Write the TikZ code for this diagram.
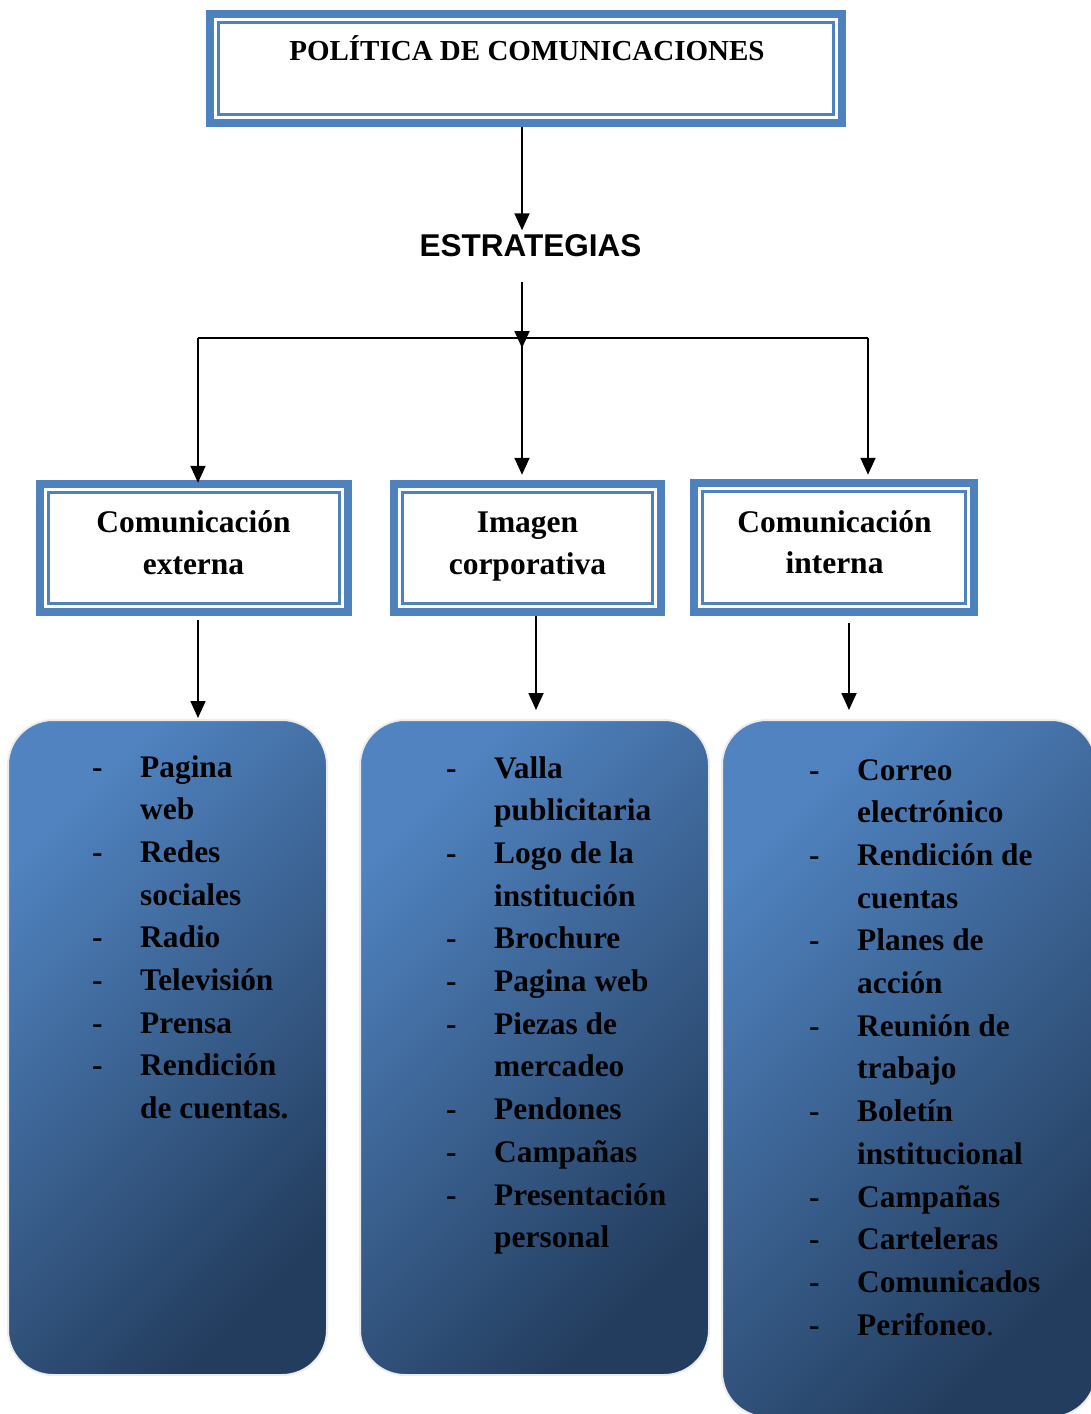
\documentclass[tikz,border=0pt]{standalone}
\usepackage{fontspec}
\setmainfont{Liberation Serif}
\newfontfamily\arialfont{Liberation Sans}
\usetikzlibrary{arrows.meta}
\definecolor{boxblue}{RGB}{79,129,189}
\definecolor{gradlight}{RGB}{80,131,192}
\definecolor{graddark}{RGB}{35,61,94}
\definecolor{edgegray}{RGB}{236,236,236}
\begin{document}
\begin{tikzpicture}[x=1pt,y=-1pt,
  bluebox/.style={draw=boxblue, line width=8.5pt, fill=white, inner sep=0pt},
  innerline/.style={draw=boxblue, line width=2.6pt},
  listbox/.style={draw=edgegray, line width=2pt, rounded corners=45pt,
    top color=gradlight, bottom color=graddark, shading angle=45, inner sep=0pt},
  titletext/.style={inner sep=0pt, anchor=base, font=\fontsize{29}{35}\selectfont\bfseries},
  esttext/.style={inner sep=0pt, anchor=base, font=\fontsize{31.5}{38}\selectfont\arialfont\bfseries},
  lbltext/.style={inner sep=0pt, anchor=base, font=\fontsize{31.5}{41.5}\selectfont\bfseries},
  listtext/.style={inner sep=0pt, anchor=base west, font=\fontsize{31.4}{42.7}\selectfont\bfseries},
  conn/.style={line width=1.8pt, draw=black},
  arr/.style={conn, -{Triangle[length=17pt,width=15pt]}}]
\useasboundingbox (0,0) rectangle (1091,1414);
\clip (0,0) rectangle (1091,1414);

% top box
\node[bluebox, minimum width=632pt, minimum height=109pt] (top) at (526,68.5) {};
\draw[innerline] ([shift={(12.5pt,-12.5pt)}]top.north west) rectangle ([shift={(-12.5pt,12.5pt)}]top.south east);
\node[titletext] (titletxt) at (527,60) {POLÍTICA DE COMUNICACIONES};

% strategies
\node[esttext] (est) at (530.5,256) {ESTRATEGIAS};

% second level boxes
\node[bluebox, minimum width=308pt, minimum height=128pt] (ext) at (194,548) {};
\draw[innerline] ([shift={(12.5pt,-12.5pt)}]ext.north west) rectangle ([shift={(-12.5pt,12.5pt)}]ext.south east);
\node[lbltext] (extlbl) at (193.5,532.5) {\begin{tabular}[t]{@{}c@{}}Comunicación\\externa\end{tabular}};

\node[bluebox, minimum width=267pt, minimum height=128pt] (mid) at (527.5,548) {};
\draw[innerline] ([shift={(12.5pt,-12.5pt)}]mid.north west) rectangle ([shift={(-12.5pt,12.5pt)}]mid.south east);
\node[lbltext] (midlbl) at (527.5,532.5) {\begin{tabular}[t]{@{}c@{}}Imagen\\corporativa\end{tabular}};

\node[bluebox, minimum width=280pt, minimum height=129pt] (int) at (834,547.5) {};
\draw[innerline] ([shift={(12.5pt,-12.5pt)}]int.north west) rectangle ([shift={(-12.5pt,12.5pt)}]int.south east);
\node[lbltext] (intlbl) at (834.5,532) {\begin{tabular}[t]{@{}c@{}}Comunicación\\interna\end{tabular}};

% third level boxes
\node[listbox, minimum width=319pt, minimum height=655pt] (lsta) at (167.5,1047.5) {};
\node[listbox, minimum width=349pt, minimum height=655pt] (lstb) at (534.5,1047.5) {};
\node[listbox, minimum width=374pt, minimum height=697pt] (lstc) at (909,1068.5) {};

\node[listtext] (lsttxta) at (92,777) {\begin{tabular}[t]{@{}p{48pt}@{}l@{}}
- & Pagina\\
  & web\\
- & Redes\\
  & sociales\\
- & Radio\\
- & Televisión\\
- & Prensa\\
- & Rendición\\
  & de cuentas.
\end{tabular}};

\node[listtext] (lsttxtb) at (446,778) {\begin{tabular}[t]{@{}p{48pt}@{}l@{}}
- & Valla\\
  & publicitaria\\
- & Logo de la\\
  & institución\\
- & Brochure\\
- & Pagina web\\
- & Piezas de\\
  & mercadeo\\
- & Pendones\\
- & Campañas\\
- & Presentación\\
  & personal
\end{tabular}};

\node[listtext] (lsttxtc) at (809,780) {\begin{tabular}[t]{@{}p{48pt}@{}l@{}}
- & Correo\\
  & electrónico\\
- & Rendición de\\
  & cuentas\\
- & Planes de\\
  & acción\\
- & Reunión de\\
  & trabajo\\
- & Boletín\\
  & institucional\\
- & Campañas\\
- & Carteleras\\
- & Comunicados\\
- & Perifoneo{\mdseries .}
\end{tabular}};

% connectors
\coordinate (j) at (522,338);
\coordinate (jl) at (198,338);
\coordinate (jr) at (868,338);
\draw[arr] ([xshift=-4pt]top.south) -- ([xshift=-8.5pt,yshift=3.5pt]est.north);
\draw[arr] ([xshift=-8.5pt,yshift=-25pt]est.south) -- ([yshift=-10pt]j);
\draw[conn] (jl) -- (jr);
\draw[arr] (j) -- ([xshift=-5.5pt,yshift=5pt]mid.north);
\draw[arr] (jl) -- ([xshift=4pt,yshift=-3pt]ext.north);
\draw[arr] (jr) -- ([xshift=34pt,yshift=4pt]int.north);
\draw[arr] ([xshift=4pt,yshift=-4pt]ext.south) -- ([xshift=30.5pt,yshift=1pt]lsta.north);
\draw[arr] ([xshift=8.5pt]mid.south) -- ([xshift=1.5pt,yshift=9pt]lstb.north);
\draw[arr] ([xshift=15pt,yshift=-7pt]int.south) -- ([xshift=-60pt,yshift=9pt]lstc.north);
\end{tikzpicture}
\end{document}
